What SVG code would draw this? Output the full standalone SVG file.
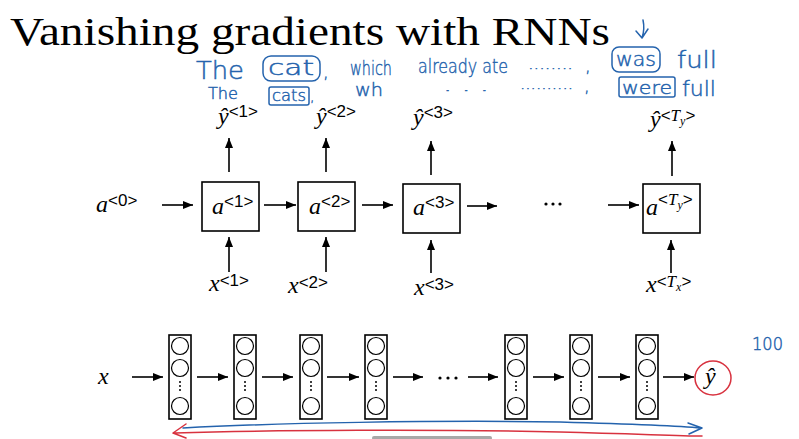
<svg xmlns="http://www.w3.org/2000/svg" width="799" height="439" viewBox="0 0 799 439">
<defs>
<style>
.title{font-family:"Liberation Serif",serif;font-size:41px;fill:#000}
.m{font-family:"Liberation Serif",serif;font-style:italic;font-size:24px;fill:#000}
.sup{font-family:"Liberation Sans",sans-serif;font-style:normal;font-size:17px}
.it{font-family:"Liberation Serif",serif;font-style:italic}
.box{fill:#fff;stroke:#000;stroke-width:1.6}
.col{fill:#fff;stroke:#000;stroke-width:1.6}
.neu{fill:#fff;stroke:#000;stroke-width:1.2}
.dot{fill:#000}
.arr{stroke:#000;stroke-width:1.6;fill:none;marker-end:url(#ah)}
.hw{font-family:"DejaVu Sans","Liberation Sans",sans-serif;font-weight:200;fill:#2463ad;stroke:#2463ad;stroke-width:0.45}
.hwl{fill:none;stroke:#2463ad;stroke-width:1.5;stroke-linecap:round;stroke-linejoin:round}
.red{fill:none;stroke:#d8323f;stroke-width:1.5;stroke-linecap:round;stroke-linejoin:round}
</style>
<marker id="ah" markerWidth="10" markerHeight="8" refX="10" refY="4" orient="auto" markerUnits="userSpaceOnUse">
<path d="M0,0 L10,4 L0,8 z" fill="#000"/>
</marker>
<g id="column">
<rect class="col" x="0" y="0" width="22" height="84"/>
<circle class="neu" cx="11" cy="11" r="8.5"/>
<circle class="neu" cx="11" cy="33" r="8.5"/>
<circle class="dot" cx="11" cy="47" r="1"/>
<circle class="dot" cx="11" cy="51" r="1"/>
<circle class="dot" cx="11" cy="55" r="1"/>
<circle class="neu" cx="11" cy="71" r="8.5"/>
</g>
</defs>
<rect width="799" height="439" fill="#fff"/>

<text class="title" x="10" y="45" textLength="600" lengthAdjust="spacingAndGlyphs">Vanishing gradients with RNNs</text>

<g id="handwriting">
<text class="hw" x="196" y="79" font-size="24" textLength="48" lengthAdjust="spacingAndGlyphs">The</text>
<rect class="hwl" x="263" y="56" width="57" height="25" rx="8"/>
<text class="hw" x="268" y="75" font-size="21" textLength="46" lengthAdjust="spacingAndGlyphs">cat</text>
<text class="hw" x="323" y="78" font-size="18">,</text>
<text class="hw" x="350" y="75" font-size="20" textLength="42" lengthAdjust="spacingAndGlyphs">which</text>
<text class="hw" x="418" y="73" font-size="20" textLength="90" lengthAdjust="spacingAndGlyphs">already ate</text>
<text class="hw" x="528" y="69" font-size="14" textLength="45" lengthAdjust="spacingAndGlyphs">........</text>
<text class="hw" x="585" y="72" font-size="18">,</text>
<rect class="hwl" x="612" y="47" width="48" height="25" rx="7"/>
<text class="hw" x="616" y="66" font-size="19" textLength="40" lengthAdjust="spacingAndGlyphs">was</text>
<text class="hw" x="677" y="68" font-size="23" textLength="40" lengthAdjust="spacingAndGlyphs">full</text>
<path class="hwl" d="M643,20 Q645,29 642,38 M636,31 L642,38 L648,29"/>

<text class="hw" x="208" y="99" font-size="15" textLength="30" lengthAdjust="spacingAndGlyphs">The</text>
<rect class="hwl" x="269" y="87" width="40" height="18" rx="2"/>
<text class="hw" x="272" y="101" font-size="16" textLength="34" lengthAdjust="spacingAndGlyphs">cats</text>
<text class="hw" x="310" y="101" font-size="14">,</text>
<text class="hw" x="355" y="96" font-size="18" textLength="28" lengthAdjust="spacingAndGlyphs">wh</text>
<text class="hw" x="443" y="91" font-size="14" textLength="46" lengthAdjust="spacingAndGlyphs">.     .     .</text>
<text class="hw" x="520" y="89" font-size="14" textLength="53" lengthAdjust="spacingAndGlyphs">..........</text>
<text class="hw" x="584" y="92" font-size="18">,</text>
<rect class="hwl" x="619" y="77" width="56" height="20" rx="2"/>
<text class="hw" x="622" y="94" font-size="18" textLength="50" lengthAdjust="spacingAndGlyphs">were</text>
<text class="hw" x="682" y="96" font-size="21" textLength="34" lengthAdjust="spacingAndGlyphs">full</text>

<text class="hw" x="752" y="350" font-size="17" textLength="31" lengthAdjust="spacingAndGlyphs">100</text>
</g>

<g id="connectors">
<line class="arr" x1="162" y1="205" x2="193" y2="205"/>
<line class="arr" x1="264" y1="205" x2="296" y2="205"/>
<line class="arr" x1="362" y1="205" x2="393" y2="205"/>
<line class="arr" x1="467" y1="206" x2="497" y2="206"/>
<line class="arr" x1="608" y1="205" x2="639" y2="205"/>
<line class="arr" x1="229" y1="172" x2="229" y2="138"/>
<line class="arr" x1="326" y1="172" x2="326" y2="138"/>
<line class="arr" x1="431" y1="175" x2="431" y2="141"/>
<line class="arr" x1="672" y1="176" x2="672" y2="141"/>
<line class="arr" x1="229" y1="272" x2="229" y2="237"/>
<line class="arr" x1="326" y1="272" x2="326" y2="237"/>
<line class="arr" x1="431" y1="273" x2="431" y2="240"/>
<line class="arr" x1="671" y1="273" x2="671" y2="240"/>

<line class="arr" x1="132" y1="377" x2="163" y2="377"/>
<line class="arr" x1="197" y1="377" x2="228" y2="377"/>
<line class="arr" x1="262" y1="377" x2="293" y2="377"/>
<line class="arr" x1="327" y1="377" x2="359" y2="377"/>
<line class="arr" x1="393" y1="377" x2="423" y2="377"/>
<line class="arr" x1="468" y1="377" x2="498" y2="377"/>
<line class="arr" x1="533" y1="377" x2="564" y2="377"/>
<line class="arr" x1="598" y1="377" x2="630" y2="377"/>
<line class="arr" x1="663" y1="377" x2="694" y2="377"/>

<path class="hwl" d="M183,428 C270,423 440,420 560,422 C630,424 680,426 701,428 M688,423 L702,428 L689,434"/>
<path class="red" d="M175,433 C270,430 440,429 560,432 C640,434 680,436 702,436 M186,424 L173,433 L186,438"/>
</g>

<g id="a0"><text class="m" x="96" y="212">a<tspan class="sup" dy="-6">&lt;0&gt;</tspan></text></g>

<g id="rnn1">
<rect class="box" x="202" y="182" width="57" height="49"/>
<text class="m" x="212" y="214">a<tspan class="sup" dy="-7">&lt;1&gt;</tspan></text>
</g>
<g id="rnn2">
<rect class="box" x="298" y="182" width="57" height="49"/>
<text class="m" x="309" y="214">a<tspan class="sup" dy="-7">&lt;2&gt;</tspan></text>
</g>
<g id="rnn3">
<rect class="box" x="403" y="184" width="57" height="49"/>
<text class="m" x="413" y="215">a<tspan class="sup" dy="-7">&lt;3&gt;</tspan></text>
</g>
<g id="ellipsis1">
<circle class="dot" cx="546" cy="204" r="1.6"/>
<circle class="dot" cx="553" cy="204" r="1.6"/>
<circle class="dot" cx="560" cy="204" r="1.6"/>
</g>
<g id="rnnT">
<rect class="box" x="643" y="184" width="57" height="49"/>
<text class="m" x="646" y="215">a<tspan class="sup" dy="-10">&lt;<tspan class="it">T</tspan><tspan class="it" font-size="12" dy="4">y</tspan><tspan dy="-4">&gt;</tspan></tspan></text>
</g>

<g id="yhat1"><text class="m" x="218" y="124">ŷ<tspan class="sup" dy="-7">&lt;1&gt;</tspan></text></g>
<g id="yhat2"><text class="m" x="316" y="124">ŷ<tspan class="sup" dy="-7">&lt;2&gt;</tspan></text></g>
<g id="yhat3"><text class="m" x="413" y="125">ŷ<tspan class="sup" dy="-7">&lt;3&gt;</tspan></text></g>
<g id="yhatT"><text class="m" x="650" y="127">ŷ<tspan class="sup" dy="-6">&lt;<tspan class="it">T</tspan><tspan class="it" font-size="12" dy="4">y</tspan><tspan dy="-4">&gt;</tspan></tspan></text></g>

<g id="x1"><text class="m" x="209" y="291">x<tspan class="sup" dy="-5">&lt;1&gt;</tspan></text></g>
<g id="x2"><text class="m" x="288" y="293">x<tspan class="sup" dy="-5">&lt;2&gt;</tspan></text></g>
<g id="x3"><text class="m" x="414" y="295">x<tspan class="sup" dy="-5">&lt;3&gt;</tspan></text></g>
<g id="xT"><text class="m" x="646" y="292">x<tspan class="sup" dy="-5">&lt;<tspan class="it">T</tspan><tspan class="it" font-size="12" dy="4">x</tspan><tspan dy="-4">&gt;</tspan></tspan></text></g>

<g id="xin"><text class="m" x="98" y="384">x</text></g>
<g id="layer1"><use href="#column" x="169" y="335"/></g>
<g id="layer2"><use href="#column" x="234" y="335"/></g>
<g id="layer3"><use href="#column" x="300" y="335"/></g>
<g id="layer4"><use href="#column" x="365" y="335"/></g>
<g id="ellipsis2">
<circle class="dot" cx="440" cy="378" r="1.6"/>
<circle class="dot" cx="448" cy="378" r="1.6"/>
<circle class="dot" cx="456" cy="378" r="1.6"/>
</g>
<g id="layer5"><use href="#column" x="505" y="335"/></g>
<g id="layer6"><use href="#column" x="570" y="335"/></g>
<g id="layer7"><use href="#column" x="636" y="335"/></g>
<g id="yout">
<ellipse class="red" cx="713" cy="378" rx="18" ry="17"/>
<text class="m" x="705" y="384">ŷ</text>
</g>
<rect id="scrollbar" x="372" y="436" width="120" height="4" rx="2" fill="#a8a8a8"/>
</svg>
